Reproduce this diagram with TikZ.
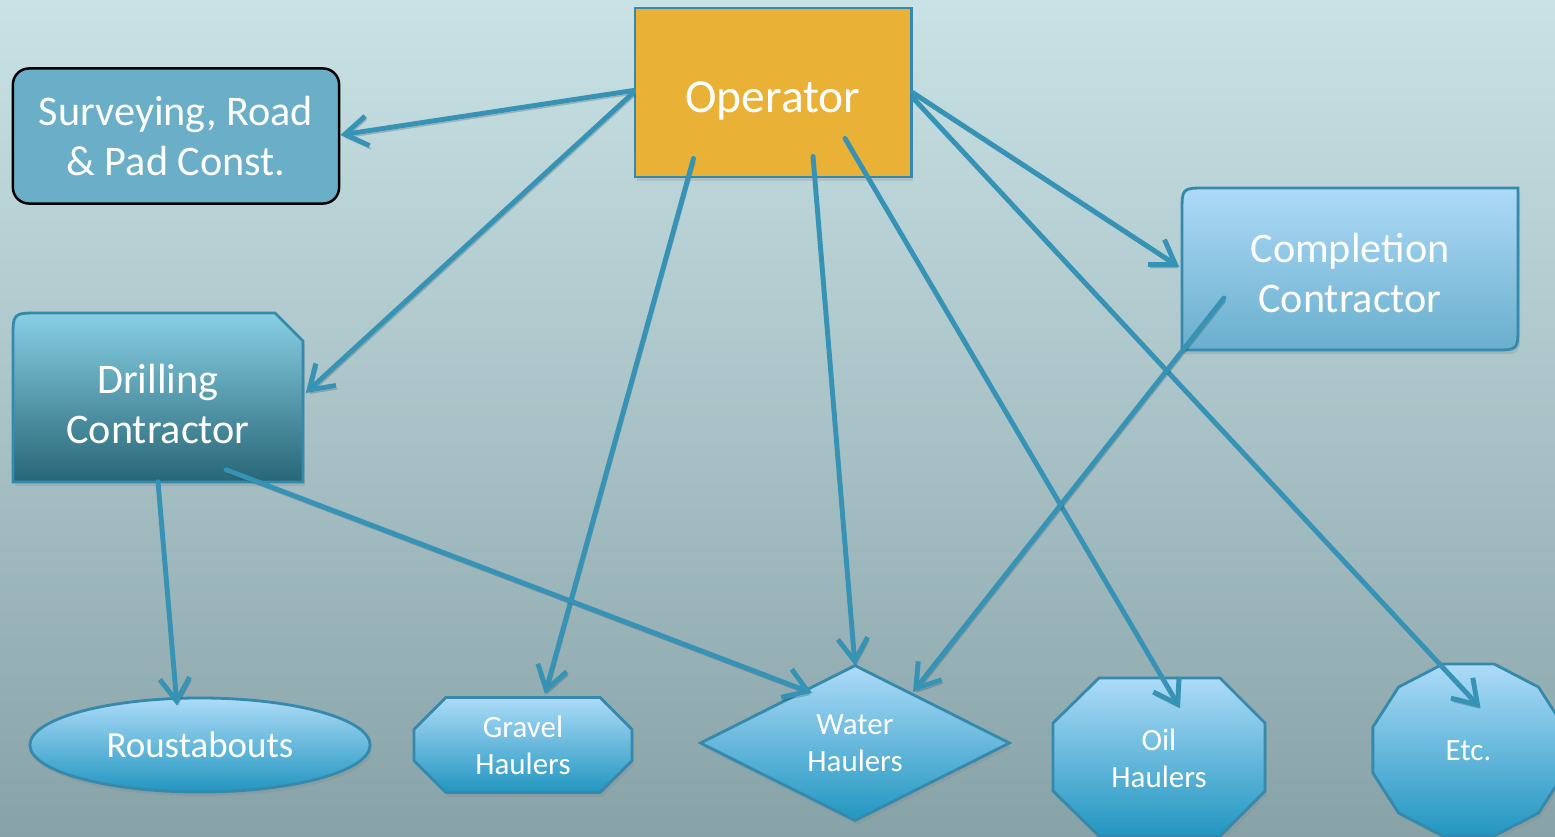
\documentclass[tikz,border=0pt]{standalone}
\usepackage{fontspec}
\setmainfont{Carlito}
\usetikzlibrary{arrows.meta,shapes.geometric,shapes.misc,shadows}

\definecolor{bgtop}{HTML}{C9E2E6}
\definecolor{bgbot}{HTML}{88A3A8}
\definecolor{arrowblue}{HTML}{3793B5}
\definecolor{edgeblue}{HTML}{3589AC}
\definecolor{surveyfill}{HTML}{6AAEC7}
\definecolor{opfill}{HTML}{E9B135}
\definecolor{drilltop}{HTML}{88CFE4}
\definecolor{drillbot}{HTML}{276676}
\definecolor{comptop}{HTML}{ADDAF7}
\definecolor{compbot}{HTML}{69AFCD}
\definecolor{leaftop}{HTML}{ADDBF8}
\definecolor{leafbot}{HTML}{2296C0}

\begin{document}
\begin{tikzpicture}[x=0.01cm, y=-0.01cm,
  txt/.style={text=white, align=center, inner sep=0pt},
  big/.style={font=\fontsize{12}{14.2}\selectfont},
  small/.style={font=\fontsize{8.8}{10.5}\selectfont},
  soft shadow/.style={drop shadow={opacity=0.22, shadow xshift=0.6pt, shadow yshift=-1.2pt}},
  leaf/.style={draw=edgeblue, line width=0.8pt, top color=leaftop, bottom color=leafbot, soft shadow},
  link/.style={draw=arrowblue, line width=1.4pt, line cap=round,
    -{Straight Barb[length=6.5pt,width=8.5pt]},
    preaction={draw=black, draw opacity=0.18, transform canvas={shift={(0.4pt,-0.9pt)}}}},
]
\useasboundingbox (0,0) rectangle (1555,836);
\clip (0,0) rectangle (1555,836);

% background
\fill[top color=bgtop, bottom color=bgbot] (0,0) rectangle (1555,836);

% top row
\node[txt, big, draw=black, line width=0.7pt, fill=surveyfill, rounded corners=0.16cm,
      minimum width=3.26cm, minimum height=1.35cm] (sur) at (176,136) {Surveying, Road\\\& Pad Const.};

\node[txt, font=\fontsize{13.5}{16}\selectfont, text height=11.2pt, text depth=0pt,
      draw=edgeblue, line width=0.8pt, fill=opfill, soft shadow,
      minimum width=2.76cm, minimum height=1.69cm] (op) at (773,92.5) {Operator};

% contractors
\path[draw=edgeblue, line width=0.8pt, top color=drilltop, bottom color=drillbot, soft shadow]
  (13,482) -- (13,339) .. controls (13,313) .. (39,313) -- (275,313) -- (303,341) -- (303,482) -- cycle;
\node[txt, big, minimum width=2.9cm, minimum height=1.56cm] (dc) at (158,404) {Drilling\\Contractor};

\path[draw=edgeblue, line width=0.8pt, top color=comptop, bottom color=compbot, soft shadow]
  (1182,350) -- (1182,212) .. controls (1182,188) .. (1206,188) -- (1518,188) -- (1518,326)
  .. controls (1518,350) .. (1494,350) -- cycle;
\node[txt, big, minimum width=3.36cm, minimum height=1.54cm] (cc) at (1350,273) {Completion\\Contractor};

% service companies
\node[txt, leaf, ellipse, font=\fontsize{10.5}{12.5}\selectfont,
      minimum width=3.4cm, minimum height=0.94cm] (rb) at (200,745) {Roustabouts};
\node[txt, leaf, small, chamfered rectangle, chamfered rectangle xsep=0.16cm, chamfered rectangle ysep=0.16cm,
      minimum width=2.18cm, minimum height=0.95cm] (gh) at (523,745) {Gravel\\Haulers};
\node[txt, leaf, small, diamond, aspect=2,
      minimum width=3.1cm, minimum height=1.56cm] (wh) at (855,743) {Water\\Haulers};
\path[leaf] (1053,723) -- (1099,678) -- (1220,678) -- (1265,723) -- (1265,791) -- (1220,836)
  -- (1099,836) -- (1053,791) -- cycle;
\node[txt, small, minimum width=2.12cm, minimum height=1.58cm] (oil) at (1159,758) {Oil\\Haulers};
\path[leaf] (1468.5,750) +(15:99 and 89) -- +(45:99 and 89) -- +(75:99 and 89) -- +(105:99 and 89)
  -- +(135:99 and 89) -- +(165:99 and 89) -- +(195:99 and 89) -- +(225:99 and 89)
  -- +(255:99 and 89) -- +(285:99 and 89) -- +(315:99 and 89) -- +(345:99 and 89) -- cycle;
\node[txt, small] (etc) at (1468.5,751) {Etc.};

% reporting lines
\draw[link] ([shift={(0,-2)}]op.west) -- ([shift={(0,-1)}]sur.east);
\draw[link] (op.west) -- ([shift={(2,-11)}]dc.east);
\draw[link] ([shift={(60,-20)}]op.south west) -- ([shift={(22,-2)}]gh.north);
\draw[link] ([shift={(40,-22)}]op.south) -- ([shift={(0,2)}]wh.north);
\draw[link] ([shift={(72,-40)}]op.south) -- ([shift={(21,-50)}]oil.center);
\draw[link] ([shift={(1,6)}]op.east) -- ([shift={(12,-43)}]etc.center);
\draw[link] (op.east) -- ([shift={(-2,-6)}]cc.west);
\draw[link] ([shift={(-126,25)}]cc.center) -- ([shift={(58,-51)}]wh.center);
\draw[link] ([shift={(0,-1)}]dc.south) -- ([shift={(-23,9)}]rb.north);
\draw[link] ([shift={(68,-13)}]dc.south) -- ([shift={(-43,-50)}]wh.center);
\end{tikzpicture}
\end{document}
